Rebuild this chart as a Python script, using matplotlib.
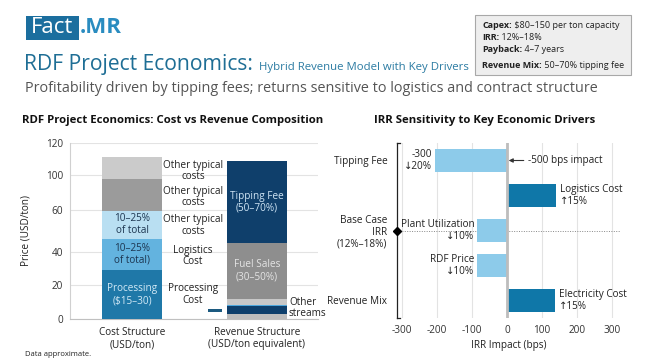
import matplotlib
matplotlib.use("Agg")
import matplotlib.pyplot as plt
from matplotlib.patches import Rectangle
import numpy as np

plt.rcParams['font.family'] = ['Open Sans', 'DejaVu Sans']

W, H = 650, 362
fig = plt.figure(figsize=(6.5, 3.62), dpi=100)
fig.patch.set_facecolor('white')

def fx(x): return x / W
def fy(y): return 1 - y / H

# ---------------- data ----------------
cost_categories = ["Cost Structure\n(USD/ton)", "Revenue Structure\n(USD/ton equivalent)"]
cost_segments = [29, 19, 16.5, 19, 13]
cost_colors = ['#1f78a8', '#63b3df', '#b9dff2', '#9b9b9b', '#cbcbcb']
cost_inside = ["Processing\n($15–30)", "10–25%\nof total)", "10–25%\nof total", "", ""]
cost_inside_colors = ['#d2e9f6', '#1c3550', '#1c3550', 'k', 'k']
cost_side_labels = ["Other typical\ncosts", "Other typical\ncosts", "Other typical\ncosts",
                    "Logistics\nCost", "Processing\nCost"]
cost_side_y = [88.4, 72.8, 55.7, 37.7, 14.6]

rev_segments = [3, 4.5, 0.8, 3.7, 33.4, 48.9]
rev_colors = ['#bdbdbd', '#0e3f6c', '#4ea7dc', '#c8c8c8', '#8e8e8e', '#0f3f6b']
rev_inside = ["", "", "", "", "Fuel Sales\n(30–50%)", "Tipping Fee\n(50–70%)"]
rev_inside_colors = ['k', 'k', 'k', 'k', '#e4e4e4', '#cfe5f5']
dash_value = (4.2, 1.8)  # bottom, height

ytick_pos = [0, 20, 40, 65, 86, 105]
ytick_labels = ['0', '20', '40', '60', '100', '120']

drivers = ["Tipping Fee", "Logistics Cost", "Plant Utilization", "RDF Price", "Electricity Cost"]
irr_impact = [-205, 140, -85, -85, 137]
irr_colors = ['#8dcbea', '#0f77a8', '#8dcbea', '#8dcbea', '#0f77a8']
irr_labels = ["-300\n↓20%", "Logistics Cost\n↑15%", "Plant Utilization\n↓10%", "RDF Price\n↓10%",
              "Electricity Cost\n↑15%"]
irr_ytick_pos = [0, 2, 4]
irr_ytick_labels = ["Tipping Fee", "Base Case\nIRR\n(12%–18%)", "Revenue Mix"]
irr_xticks = [-300, -200, -100, 0, 100, 200, 300]

FS = 7.2

# ---------------- header ----------------
fig.patches.append(Rectangle((fx(25.5), fy(39.5)), fx(79) - fx(25.5), fy(15.5) - fy(39.5),
                             transform=fig.transFigure, facecolor='#1b6e9e', edgecolor='none'))
fig.text(fx(52), fy(27.5), "Fact", color='white', fontsize=16, ha='center', va='center')
fig.text(fx(80), fy(27.5), ".MR", color='#2a8cc0', fontsize=16, fontweight='bold', ha='left', va='center')

fig.canvas.draw()
renderer = fig.canvas.get_renderer()

t_title = fig.text(fx(24), fy(70), "RDF Project Economics:", color='#1e6e95', fontsize=15.2,
                   ha='left', va='baseline')
bb = t_title.get_window_extent(renderer)
fig.text(bb.x1 / fig.bbox.width + fx(6), fy(70), "Hybrid Revenue Model with Key Drivers",
         color='#2b7ba2', fontsize=8.2, ha='left', va='baseline')
fig.text(fx(25), fy(91.5), "Profitability driven by tipping fees; returns sensitive to logistics and contract structure",
         color='#555555', fontsize=10.4, ha='left', va='baseline')

# info box
fig.patches.append(Rectangle((fx(475), fy(75)), fx(631) - fx(475), fy(15) - fy(75),
                             transform=fig.transFigure, facecolor='#eeeeee', edgecolor='#a8a8a8', lw=0.8))
info = [("Capex:", " $80–150 per ton capacity", 25),
        ("IRR:", " 12%–18%", 37.5),
        ("Payback:", " 4–7 years", 50),
        ("Revenue Mix:", " 50–70% tipping fee", 65)]
for key, val, yy in info:
    t = fig.text(fx(482), fy(yy), key, fontsize=6.5, fontweight='bold', color='#222222',
                 ha='left', va='center')
    bbk = t.get_window_extent(renderer)
    fig.text(bbk.x1 / fig.bbox.width, fy(yy), val, fontsize=6.5, color='#222222',
             ha='left', va='center')

fig.text(fx(25), fy(354), "Data approximate.", fontsize=5.5, color='#222222', ha='left', va='center')

# ---------------- left chart ----------------
ax1 = fig.add_axes([fx(70), fy(319), fx(318) - fx(70), fy(143) - fy(319)])
xpos = np.array([0, 1])
bw = 0.48
bottom = 0
for v, c, lab, lc in zip(cost_segments, cost_colors, cost_inside, cost_inside_colors):
    ax1.bar(xpos[0], v, bw, bottom=bottom, color=c, zorder=3)
    if lab:
        ax1.text(xpos[0], bottom + v / 2, lab, ha='center', va='center', fontsize=FS,
                 color=lc, linespacing=1.1, zorder=4)
    bottom += v
for lab, yy in zip(cost_side_labels, cost_side_y):
    ax1.text(0.488, yy, lab, ha='center', va='center', fontsize=FS, color='#222222',
             linespacing=1.05, zorder=4)

bottom = 0
for v, c, lab, lc in zip(rev_segments, rev_colors, rev_inside, rev_inside_colors):
    ax1.bar(xpos[1], v, bw, bottom=bottom, color=c, zorder=3)
    if lab:
        ax1.text(xpos[1], bottom + v / 2, lab, ha='center', va='center', fontsize=FS,
                 color=lc, linespacing=1.1, zorder=4)
    bottom += v
ax1.bar(0.664, dash_value[1], 0.112, bottom=dash_value[0], color='#1c5a80', zorder=3)
ax1.text(1.256, 6.6, "Other\nstreams", ha='left', va='center', fontsize=FS, color='#222222',
         linespacing=1.05, zorder=4)

ax1.set_xlim(-0.496, 1.488)
ax1.set_ylim(0, 105)
ax1.set_yticks(ytick_pos)
ax1.set_yticklabels(ytick_labels, fontsize=FS, color='#333333')
ax1.set_xticks(xpos)
ax1.set_xticklabels(cost_categories, fontsize=FS, color='#222222', linespacing=1.1)
ax1.tick_params(length=0, pad=5)
ax1.tick_params(axis='x', pad=6)
ax1.grid(axis='y', color='#e3e3e3', lw=0.8, zorder=0)
for s in ['top', 'right']:
    ax1.spines[s].set_visible(False)
ax1.spines['left'].set_color('#d0d0d0')
ax1.spines['bottom'].set_color('#c0c0c0')
ax1.set_ylabel("Price (USD/ton)", fontsize=FS, color='#222222', labelpad=10)
fig.text(fx(173), fy(120), "RDF Project Economics: Cost vs Revenue Composition", fontsize=8.2,
         fontweight='bold', ha='center', va='center', color='#111111')

# ---------------- right chart ----------------
ax2 = fig.add_axes([fx(397), fy(318), fx(620) - fx(397), fy(143) - fy(318)])
ypos = np.arange(len(drivers))
ax2.barh(ypos, irr_impact, height=0.63, color=irr_colors, zorder=3)
ax2.set_xlim(-314, 323)
ax2.set_ylim(4.5, -0.5)
ax2.set_xticks(irr_xticks)
ax2.set_xticklabels([str(v) for v in irr_xticks], fontsize=FS, color='#333333')
ax2.set_yticks(irr_ytick_pos)
ax2.set_yticklabels(irr_ytick_labels, fontsize=FS, color='#222222', linespacing=1.1)
ax2.tick_params(length=0)
ax2.tick_params(axis='y', pad=7)
ax2.tick_params(axis='x', pad=5)
ax2.grid(axis='x', color='#e3e3e3', lw=0.8, zorder=0)
for s in ['top', 'right', 'bottom', 'left']:
    ax2.spines[s].set_visible(False)
ax2.axvline(0, color='#bdbdbd', lw=2, zorder=4)
ax2.axhline(2, color='#888888', lw=0.7, ls=(0, (1, 1.5)), zorder=2)
# bracket
tr = ax2.transAxes
ax2.plot([0, 0], [0, 1], color='#222222', lw=0.9, transform=tr, clip_on=False, zorder=5)
ax2.plot([0, 0.015], [1, 1], color='#222222', lw=0.9, transform=tr, clip_on=False, zorder=5)
ax2.plot([0, 0.015], [0, 0], color='#222222', lw=0.9, transform=tr, clip_on=False, zorder=5)
ax2.plot([-314], [2], marker='D', color='black', ms=4, clip_on=False, zorder=6)

for i, (v, lab) in enumerate(zip(irr_impact, irr_labels)):
    if v < 0:
        ax2.text(v - 8, i, lab, ha='right', va='center', fontsize=FS, color='#222222',
                 linespacing=1.1, zorder=5)
    else:
        ax2.text(v + 12, i, lab, ha='left', va='center', fontsize=FS, color='#222222',
                 linespacing=1.1, zorder=5)
ax2.annotate("-500 bps impact", xy=(5, 0), xytext=(60, 0), fontsize=FS, color='#222222',
             va='center', ha='left',
             arrowprops=dict(arrowstyle='-|>', color='#333333', lw=0.8, mutation_scale=6,
                             shrinkA=1, shrinkB=0), zorder=5)
ax2.set_xlabel("IRR Impact (bps)", fontsize=FS, color='#222222', labelpad=3)
fig.text(fx(485), fy(121), "IRR Sensitivity to Key Economic Drivers", fontsize=8.2,
         fontweight='bold', ha='center', va='center', color='#111111')

fig.savefig("out.png", dpi=100, facecolor='white')
